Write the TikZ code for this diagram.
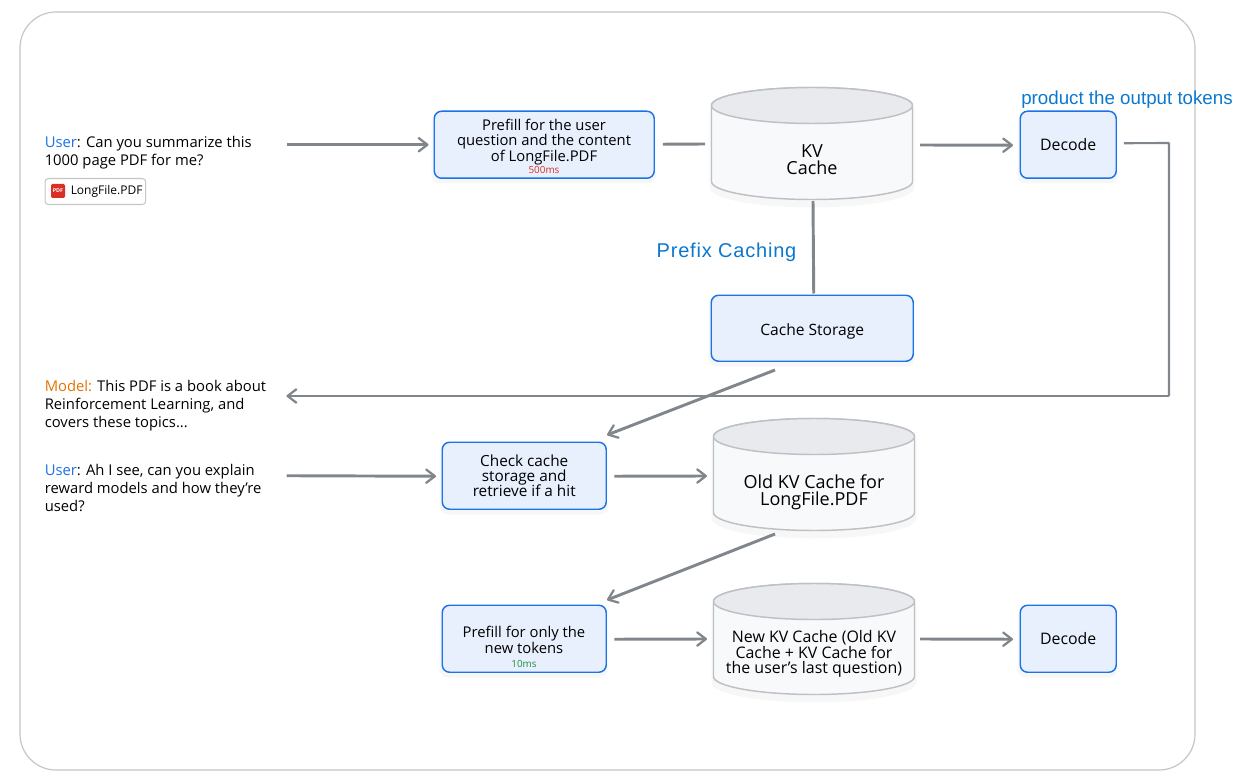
\documentclass[tikz,border=0pt]{standalone}
\usepackage{fontspec}
\setmainfont{Open Sans}
\newfontfamily\arialf{Liberation Sans}
\usetikzlibrary{arrows.meta,calc}
\definecolor{boxblue}{HTML}{E8F0FE}
\definecolor{edgeblue}{HTML}{1A73E8}
\definecolor{conn}{HTML}{80868B}
\definecolor{frame}{HTML}{C4C7C5}
\definecolor{cylside}{HTML}{F8F9FA}
\definecolor{cyltop}{HTML}{E8EAED}
\definecolor{cyledge}{HTML}{BDC1C6}
\definecolor{labelblue}{HTML}{0B78D0}
\definecolor{userblue}{HTML}{1A73E8}
\definecolor{modelorange}{HTML}{E37400}
\definecolor{timered}{HTML}{D93025}
\definecolor{timegreen}{HTML}{1E8E3E}
\tikzset{
  x=0.75pt,y=-0.75pt,
  flowbox/.style={draw=edgeblue,fill=boxblue,line width=1.1pt,rounded corners=5.5pt,align=center,
    inner sep=0pt,font=\fontsize{11.5}{11.6}\selectfont,text=black},
  softshadow/.style={fill=black,opacity=0.03,rounded corners=6pt,draw=none},
  cyllabel/.style={align=center,inner sep=0pt,text=black},
  chat/.style={align=left,anchor=north west,inner sep=0pt,font=\fontsize{11.1}{13.6}\selectfont,text=black},
  link/.style={draw=conn,line width=2.2pt},
  flow/.style={link,-{Straight Barb[length=6.5pt,width=10pt,line width=1.7pt,round]}},
  timing/.style={inner sep=0pt,font=\fontsize{7.4}{8}\selectfont},
  boxtext/.style={inner sep=0pt,align=center,font=\fontsize{11.1}{11.6}\selectfont},
  note/.style={inner sep=0pt,text=labelblue,font=\arialf},
}
% name, x, y, width, height, text (box positions in reference pixels)
\newcommand{\flowbox}[6]{%
  \fill[softshadow] (#2-2,#3+3) rectangle ++(#4+4,#5+3);
  \node[flowbox,minimum width=#4*0.75pt,minimum height=#5*0.75pt,anchor=north west] (#1) at (#2,#3) {#6};
}
% name, x left, y top, width, height, font size, baseline skip, text offset, text
\newcommand{\cachecyl}[9]{%
  \fill[black,opacity=0.03] (#2-2,#3+20) -- ++(0,#5-32) arc[x radius=#4/2+2,y radius=20,start angle=180,end angle=0] -- ++(0,-#5+32) -- cycle;
  \draw[draw=cyledge,fill=cylside,line width=1.1pt]
    (#2,#3+18) -- (#2,#3+#5-18)
    arc[x radius=#4/2,y radius=18,start angle=180,end angle=0]
    -- (#2+#4,#3+18)
    arc[x radius=#4/2,y radius=18,start angle=0,end angle=-180] -- cycle;
  \draw[draw=cyledge,fill=cyltop,line width=1.1pt] (#2+#4/2,#3+18) ellipse[x radius=#4/2,y radius=18];
  \node[cyllabel,font=\fontsize{#6}{#7}\selectfont] (#1) at (#2+#4/2,#3+#5/2+#8) {#9};
}
\begin{document}
\begin{tikzpicture}
\useasboundingbox (0,0) rectangle (1248,784);
\fill[white] (0,0) rectangle (1248,784);
\draw[draw=frame,line width=0.9pt,rounded corners=27pt] (20,12) rectangle (1195,770);

% chat text
\node[chat] (userone) at (44.5,136) {\textcolor{userblue}{User}: Can you summarize this\\1000 page PDF for me?};
\node[draw=frame,fill=white,line width=0.8pt,rounded corners=2.5pt,minimum width=75.5pt,minimum height=19.5pt,anchor=north west,inner sep=0pt] (chip) at (44.5,178) {};
\node[fill=timered,rounded corners=1pt,minimum width=10.5pt,minimum height=10.5pt,inner sep=0pt,text=white,font=\bfseries\fontsize{4}{4}\selectfont] (pdficon) at (58,191) {PDF};
\node[anchor=west,inner sep=0pt,font=\fontsize{9}{10}\selectfont,text=black] (chiptext) at (70.5,191) {LongFile.PDF};
\node[chat] (model) at (44.5,380) {\textcolor{modelorange}{Model:} This PDF is a book about\\Reinforcement Learning, and\\covers these topics...};
\node[chat] (usertwo) at (44.5,464) {\textcolor{userblue}{User}: Ah I see, can you explain\\reward models and how they're\\used?};

% boxes
\flowbox{prefill}{433.5}{110.5}{220}{67}{}
\node[boxtext] (prefilltext) at (544,142) {Prefill for the user\\question and the content\\of LongFile.PDF};
\node[timing,text=timered] (prefilltime) at (544,170) {500ms};
\flowbox{decode}{1019.5}{110.5}{96}{67}{\fontsize{11.9}{12}\selectfont Decode}
\flowbox{storage}{710.5}{294.5}{202}{66}{\fontsize{11.7}{12}\selectfont\raisebox{1.6pt}[1.2em][0pt]{Cache Storage}}
\flowbox{check}{441.5}{441.5}{164}{67}{Check cache\\storage and\\retrieve if a hit}
\flowbox{prefilltwo}{441.5}{604.5}{164}{67}{}
\node[boxtext] (prefilltwotext) at (524,640) {Prefill for only the\\new tokens};
\node[timing,text=timegreen] (prefilltwotime) at (524,664) {10ms};
\flowbox{decodetwo}{1019.5}{604.5}{96}{67}{\fontsize{11.9}{12}\selectfont Decode}

% caches
\cachecyl{kv}{711.5}{87.5}{201}{112}{13.5}{12.9}{16.5}{KV\\Cache}
\cachecyl{old}{713.5}{418.5}{201}{112}{13.5}{12.9}{17.5}{Old KV Cache for\\LongFile.PDF}
\cachecyl{new}{713.5}{583.5}{201}{111}{11.95}{11.7}{15}{New KV Cache (Old KV\\Cache + KV Cache for\\the user's last question)}

% notes
\node[note,font=\arialf\fontsize{14.05}{15}\selectfont] (tokens) at (1127,100) {product the output tokens};
\node[note,font=\arialf\addfontfeatures{LetterSpace=4}\fontsize{15}{17}\selectfont] (prefix) at (726.5,252) {Prefix Caching};

% anchor points of the free or detached connector ends
\coordinate (storagefoot) at (775,370);
\coordinate (checktop) at (607,435);
\coordinate (oldfoot) at (775,534);
\coordinate (prefilltwotop) at (607,600);
\coordinate (corner) at (1169,396);
\coordinate (cornertop) at (1169,143);

% connectors
\draw[flow] ($(userone.east |- prefill.west)+(35,0)$) -- ($(prefill.west)+(-5,0)$);
\draw[link] ($(prefill.east)+(8,-0.5)$) -- (705,144);
\draw[flow] (920,145) -- ($(decode.west)+(-6.5,0.5)$);
\draw[link,line width=1.6pt,rounded corners=0.5pt] ($(decode.east)+(7,-1.5)$) -- (cornertop) -- (corner);
\draw[flow] (corner) -- ($(model.east |- corner)+(20,0)$);
\draw[link] (813,201) -- ($(storage.north)+(1.5,-1)$);
\draw[flow] (storagefoot) -- (checktop);
\draw[flow] ($(usertwo.east |- check.west)+(25,0)$) -- ($(check.west)+(-5.5,0.5)$);
\draw[flow] ($(check.east)+(7.5,0.5)$) -- (707,476);
\draw[flow] (oldfoot) -- (prefilltwotop);
\draw[flow] ($(prefilltwo.east)+(7.5,0.5)$) -- (707,639);
\draw[flow] (920,639) -- ($(decodetwo.west)+(-6.5,0.5)$);
\end{tikzpicture}
\end{document}
